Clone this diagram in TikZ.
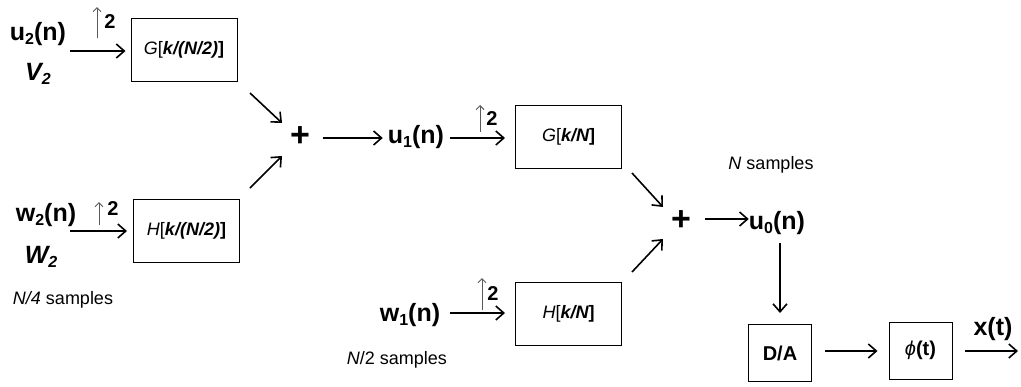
\documentclass[tikz,border=0pt]{standalone}
\usepackage{fontspec}
\setmainfont{Liberation Sans}
\usetikzlibrary{arrows.meta}
% lowered, smaller index for the signal names
\newcommand{\idx}[1]{\raisebox{-0.35ex}{\fontsize{16}{16}\selectfont #1}}
\begin{document}
\begin{tikzpicture}[x=1pt,y=-1pt,
  sig/.style={anchor=base,inner sep=0pt,font=\fontsize{25}{25}\selectfont\bfseries},
  note/.style={anchor=base,inner sep=0pt,font=\fontsize{18}{18}\selectfont},
  upnum/.style={anchor=base,inner sep=0pt,font=\fontsize{20}{20}\selectfont\bfseries},
  plus/.style={inner sep=0pt,font=\fontsize{34}{34}\selectfont\bfseries},
  filt/.style={draw,line width=1pt,minimum width=106pt,minimum height=63pt,inner sep=0pt,
    font=\fontsize{18}{18}\selectfont},
  conv/.style={draw,line width=1pt,minimum width=63pt,minimum height=57pt,inner sep=0pt,
    font=\fontsize{20}{20}\selectfont\bfseries},
  arr/.style={line width=1.6pt,-{Straight Barb[length=8pt,width=14pt,line width=1.6pt]}},
  upsamp/.style={line width=1pt,draw=black!65,-{Straight Barb[length=4pt,width=8pt,line width=1pt]}}]
\useasboundingbox (0,0) rectangle (1021,386);

% ---- coarsest stage: u2, w2 ----
\node[sig] (u2) at (38,40) {u\idx{2}(n)};
\node[sig,font=\fontsize{25}{25}\selectfont\bfseries\itshape] (V2) at (38,80) {V\idx{2}};
\node[filt] (g2) at (184,50) {{\itshape G}[{\bfseries\itshape k/(N/2)}{\bfseries ]}};
\coordinate (u2s) at (70,51);
\draw[arr,shorten >=5pt] (u2s) -- (g2.west |- u2s);
\coordinate (u2ua) at (97,38);
\coordinate (u2ub) at (97,7);
\draw[upsamp] (u2ua) -- (u2ub);
\node[upnum] (u2n) at (110,28) {2};

\node[sig] (w2) at (46,221) {w\idx{2}(n)};
\node[sig,font=\fontsize{25}{25}\selectfont\bfseries\itshape] (W2) at (41,263) {W\idx{2}};
\node[filt] (h2) at (186.5,231) {{\itshape H}[{\bfseries\itshape k/(N/2)}{\bfseries ]}};
\coordinate (w2s) at (70,231);
\draw[arr,shorten >=6pt] (w2s) -- (h2.west |- w2s);
\coordinate (w2ua) at (99,225);
\coordinate (w2ub) at (99,202);
\draw[upsamp] (w2ua) -- (w2ub);
\node[upnum] (w2n) at (113,215) {2};
\node[note] (n4) at (63,304) {{\itshape N/4} samples};

% first sum
\node[plus] (p1) at (300,137) {+};
\coordinate (d1a) at (250,93);
\coordinate (d1b) at (282,123);
\coordinate (d2a) at (250,188);
\coordinate (d2b) at (282,156);
\draw[arr] (d1a) -- (d1b);
\draw[arr] (d2a) -- (d2b);

% ---- middle stage: u1, w1 ----
\node[sig] (u1) at (416,143) {u\idx{1}(n)};
\coordinate (p1o) at (323,138);
\draw[arr,shorten >=5pt] (p1o) -- (u1.west |- p1o);
\node[filt] (g1) at (568.5,136.5) {{\itshape G}[{\bfseries\itshape k/N}{\bfseries ]}};
\coordinate (u1s) at (450,138);
\draw[arr,shorten >=10pt] (u1s) -- (g1.west |- u1s);
\coordinate (u1ua) at (480,132);
\coordinate (u1ub) at (480,105);
\draw[upsamp] (u1ua) -- (u1ub);
\node[upnum] (u1n) at (492,125) {2};

\node[sig] (w1) at (410,321) {w\idx{1}(n)};
\node[filt] (h1) at (568.5,314) {{\itshape H}[{\bfseries\itshape k/N}{\bfseries ]}};
\coordinate (w1s) at (450,313);
\draw[arr,shorten >=10pt] (w1s) -- (h1.west |- w1s);
\coordinate (w1ua) at (482,310);
\coordinate (w1ub) at (482,278);
\draw[upsamp] (w1ua) -- (w1ub);
\node[upnum] (w1n) at (493,300) {2};
\node[note] (n2) at (397,364) {{\itshape N}/2 samples};

% second sum
\node[plus] (p0) at (681,221) {+};
\coordinate (d3a) at (632,173);
\coordinate (d3b) at (663,207);
\coordinate (d4a) at (632,272);
\coordinate (d4b) at (663,239);
\draw[arr] (d3a) -- (d3b);
\draw[arr] (d4a) -- (d4b);
\node[note] (nN) at (771,169) {{\itshape N} samples};

% ---- reconstruction ----
\node[sig] (u0) at (777,229) {u\idx{0}(n)};
\coordinate (p0o) at (705,219);
\draw[arr] (p0o) -- (u0.west |- p0o);
\node[conv] (da) at (780,353) {D/A};
\coordinate (u0b) at (780,243);
\draw[arr,shorten >=11pt] (u0b) -- (da.north);
\node[conv] (phi) at (920.5,350.5) {{\mdseries\itshape ϕ}(t)};
\coordinate (das) at (825,351);
\draw[arr,shorten >=11pt] (das) -- (phi.west |- das);
\coordinate (phs) at (965,351);
\coordinate (phe) at (1018,351);
\draw[arr] (phs) -- (phe);
\node[sig] (xt) at (993,335) {x(t)};
\end{tikzpicture}
\end{document}
